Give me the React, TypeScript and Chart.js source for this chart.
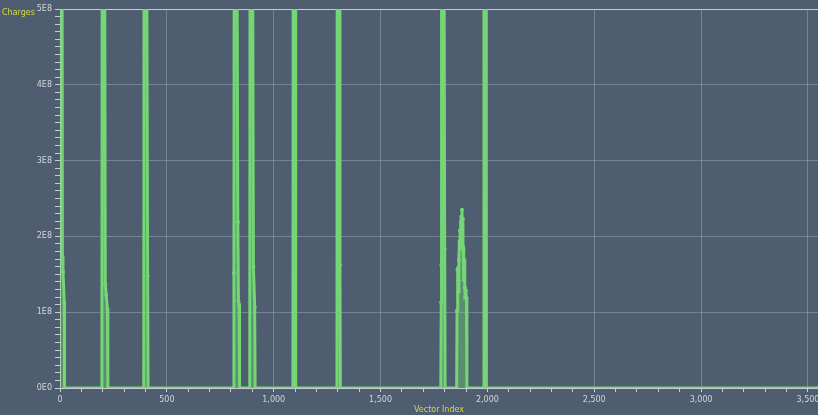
import React, { useEffect, useRef } from "react";
import { Chart, registerables } from "chart.js";

Chart.register(...registerables);

// Vector index positions (x) and charge values (y)
const vectorIndex: number[] = [
  0, 9, 11, 14, 20, 21,
  196, 198, 207, 212, 216, 222, 224,
  392, 394, 403, 410, 412,
  812, 814, 816, 825, 832, 835, 838, 840,
  888, 890, 899, 905, 911, 913,
  1090, 1092, 1101, 1103,
  1296, 1298, 1307, 1310, 1312,
  1782, 1784, 1785, 1786, 1795, 1800, 1802,
  1856, 1858, 1860, 1862, 1864, 1866, 1867, 1869, 1871, 1872, 1874, 1876, 1878, 1881, 1882, 1885, 1886, 1888, 1890, 1892, 1894, 1896, 1899, 1902, 1904,
  1982, 1984, 1993, 1995,
  3547,
];

const charges: number[] = [
  9e8, 9e8, 1.73e8, 1.53e8, 1.12e8, 0,
  0, 9e8, 9e8, 1.37e8, 1.23e8, 1.04e8, 0,
  0, 9e8, 9e8, 1.48e8, 0,
  0, 1.52e8, 9e8, 9e8, 2.19e8, 1.15e8, 1.1e8, 0,
  0, 9e8, 9e8, 1.6e8, 1.07e8, 0,
  0, 9e8, 9e8, 0,
  0, 9e8, 9e8, 1.63e8, 0,
  0, 1.13e8, 1.62e8, 9e8, 9e8, 1.83e8, 0,
  0, 1.02e8, 1.56e8, 1.58e8, 1.27e8, 1.42e8, 1.69e8, 1.93e8, 1.89e8, 2.08e8, 1.85e8, 2.18e8, 2.26e8, 2.35e8, 2.12e8, 2.23e8, 1.86e8, 1.82e8, 1.42e8, 1.69e8, 1.33e8, 1.19e8, 1.29e8, 1.19e8, 0,
  0, 9e8, 9e8, 0,
  0,
];

const xMax = 3547;
const xLastTick = 3500;
const xMajorStep = 500;
const xMinorStep = 100;
const yMax = 5e8;
const yMinorStep = 1e7;

const BG = "#4e5d70";
const GREEN = "#74d674";
const GRID = "rgba(150,162,178,0.55)";
const AXIS = "#c9ccd0";
const LABEL = "#d4d6d8";
const YELLOW = "#d9d84a";
const FONT = "DejaVu Sans";

const chargesLabelPlugin = {
  id: "chargesLabel",
  afterDraw(chart: any) {
    const ctx = chart.ctx;
    ctx.save();
    ctx.font = `8px "${FONT}"`;
    ctx.fillStyle = YELLOW;
    ctx.textAlign = "left";
    ctx.textBaseline = "middle";
    ctx.fillText("Charges", 2, chart.chartArea.top + 4);
    ctx.restore();
  },
};

export default function App() {
  const ref = useRef<HTMLCanvasElement | null>(null);

  useEffect(() => {
    document.body.style.margin = "0";
    const canvas = ref.current;
    if (!canvas) return;
    const points = vectorIndex.map((x, i) => ({ x, y: charges[i] }));
    const chart = new Chart(canvas, {
      type: "line",
      data: {
        datasets: [
          {
            label: "Charges",
            data: points,
            borderColor: GREEN,
            backgroundColor: "rgba(116,214,116,0.4)",
            borderWidth: 3,
            fill: "origin",
            pointRadius: 2,
            pointBackgroundColor: GREEN,
            pointBorderColor: GREEN,
            pointBorderWidth: 0,
            tension: 0,
          },
        ],
      },
      options: {
        animation: false,
        responsive: false,
        maintainAspectRatio: false,
        layout: { autoPadding: false, padding: { top: 9, right: 0, left: 0, bottom: 0 } },
        plugins: {
          legend: { display: false },
          tooltip: { enabled: false },
        },
        scales: {
          x: {
            type: "linear",
            min: 0,
            max: xMax,
            afterBuildTicks: (s: any) => {
              const t: any[] = [];
              for (let v = 0; v <= xLastTick; v += xMinorStep) t.push({ value: v });
              s.ticks = t;
            },
            afterFit: (s: any) => {
              s.height = 27;
              s.paddingLeft = 0;
              s.paddingRight = 0;
            },
            border: { color: AXIS, width: 1 },
            grid: {
              color: (c: any) =>
                c.tick && c.tick.value % xMajorStep === 0 && c.tick.value !== 0 ? GRID : "rgba(0,0,0,0)",
              tickColor: AXIS,
              tickLength: 4,
              lineWidth: 1,
            },
            ticks: {
              autoSkip: false,
              maxRotation: 0,
              padding: 3,
              color: LABEL,
              font: { family: FONT, size: 8 },
              callback: (v: any) =>
                Number(v) % xMajorStep === 0 ? Number(v).toLocaleString("en-US") : "",
            },
            title: {
              display: true,
              text: "Vector Index",
              color: YELLOW,
              font: { family: FONT, size: 8 },
              padding: { top: 0, bottom: 0 },
            },
          },
          y: {
            type: "linear",
            min: 0,
            max: yMax,
            afterFit: (s: any) => {
              s.width = 60;
            },
            border: { color: AXIS, width: 1 },
            grid: {
              color: (c: any) => {
                if (!c.tick) return "rgba(0,0,0,0)";
                const k = Math.round(c.tick.value / yMinorStep);
                if (k === 50) return AXIS;
                return k % 10 === 0 && k !== 0 ? GRID : "rgba(0,0,0,0)";
              },
              tickColor: AXIS,
              tickLength: 5,
              lineWidth: 1,
            },
            ticks: {
              stepSize: yMinorStep,
              autoSkip: false,
              padding: 3,
              color: LABEL,
              font: { family: FONT, size: 8 },
              callback: (v: any) => {
                const k = Math.round(Number(v) / yMinorStep);
                if (k % 10 !== 0) return "";
                return k === 0 ? "0E0" : `${k / 10}E8`;
              },
            },
          },
        },
      },
      plugins: [chargesLabelPlugin],
    });
    return () => chart.destroy();
  }, []);

  return (
    <div style={{ width: 818, height: 415, background: BG }}>
      <canvas ref={ref} width={818} height={415} style={{ display: "block" }} />
    </div>
  );
}
